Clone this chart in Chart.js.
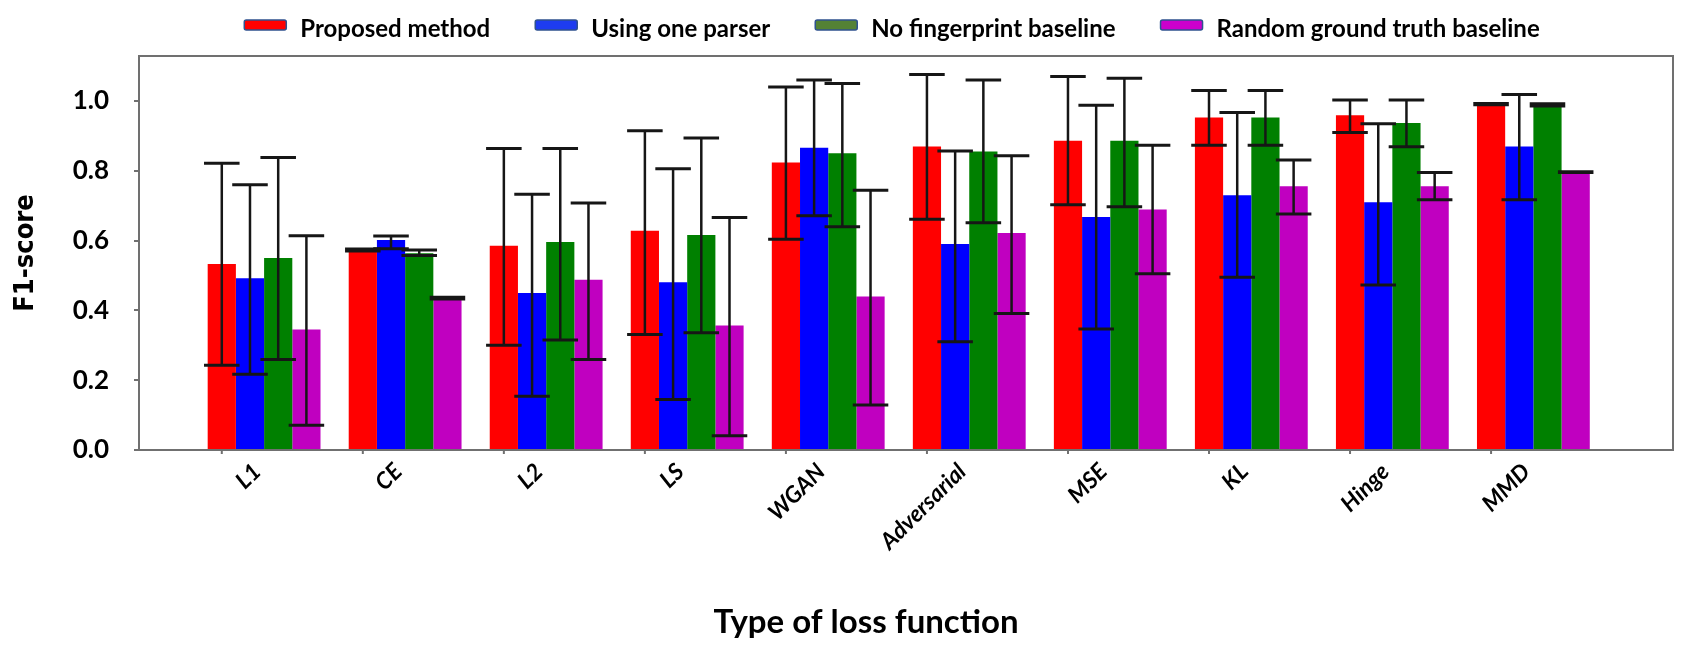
<!DOCTYPE html>
<html>
<head>
<meta charset="utf-8">
<title>F1-score by type of loss function</title>
<script src="https://cdn.jsdelivr.net/npm/chart.js"></script>
<style>
  html, body { margin: 0; padding: 0; background: #fff; }
  #wrap { width: 1690px; height: 650px; }
</style>
</head>
<body>
<div id="wrap"><canvas id="chart" width="1690" height="650"></canvas></div>
<script>
// categories and tick labels
var lossTypes = ['L1', 'CE', 'L2', 'LS', 'WGAN', 'Adversarial', 'MSE', 'KL', 'Hinge', 'MMD'];
var yTicks = [0, 0.2, 0.4, 0.6, 0.8, 1.0];
var seriesNames = ['Proposed method', 'Using one parser', 'No fingerprint baseline', 'Random ground truth baseline'];

// mean F1-score, with error bar low / high ends
var proposedMean = [0.533, 0.573, 0.585, 0.628, 0.824, 0.870, 0.886, 0.953, 0.959, 0.991];
var proposedLow  = [0.243, 0.570, 0.300, 0.331, 0.604, 0.661, 0.703, 0.873, 0.910, 0.989];
var proposedHigh = [0.822, 0.576, 0.864, 0.915, 1.040, 1.076, 1.070, 1.030, 1.003, 0.993];

var oneParserMean = [0.492, 0.602, 0.450, 0.481, 0.866, 0.590, 0.668, 0.730, 0.710, 0.870];
var oneParserLow  = [0.217, 0.577, 0.154, 0.145, 0.671, 0.310, 0.347, 0.495, 0.473, 0.717];
var oneParserHigh = [0.760, 0.613, 0.733, 0.806, 1.060, 0.857, 0.988, 0.967, 0.935, 1.019];

var noFingerMean = [0.550, 0.564, 0.596, 0.616, 0.850, 0.855, 0.886, 0.953, 0.937, 0.990];
var noFingerLow  = [0.259, 0.557, 0.315, 0.336, 0.640, 0.651, 0.697, 0.873, 0.869, 0.986];
var noFingerHigh = [0.838, 0.573, 0.864, 0.894, 1.050, 1.060, 1.065, 1.030, 1.003, 0.992];

var randomMean = [0.345, 0.435, 0.488, 0.357, 0.440, 0.622, 0.689, 0.756, 0.756, 0.795];
var randomLow  = [0.071, 0.433, 0.259, 0.041, 0.129, 0.391, 0.505, 0.676, 0.717, 0.795];
var randomHigh = [0.614, 0.438, 0.708, 0.666, 0.744, 0.843, 0.873, 0.831, 0.795, 0.797];

var barColors = ['#ff0000', '#0000ff', '#008000', '#c000c0'];
var legendColors = ['#ff0000', '#1e3cf0', '#548235', '#cc00cc'];

function points(values) {
    return values.map(function (v, i) { return {x: i, y: v}; });
}

function makeSet(n, mean, low, high) {
    return {
        label: seriesNames[n],
        data: points(mean),
        errLow: low,
        errHigh: high,
        backgroundColor: barColors[n],
        borderWidth: 0,
        barPercentage: 1.0,
        categoryPercentage: 0.8
    };
}

// box round the plot + small x tick marks under the red bars
var frame = {
    id: 'frame',
    afterDatasetsDraw: function (chart) {
        var ctx = chart.ctx, a = chart.chartArea;
        ctx.save();
        ctx.strokeStyle = '#707070';
        ctx.lineWidth = 2;
        ctx.strokeRect(a.left, a.top, a.right - a.left, a.bottom - a.top);
        chart.getDatasetMeta(0).data.forEach(function (bar) {
            ctx.beginPath();
            ctx.moveTo(bar.x, a.bottom);
            ctx.lineTo(bar.x, a.bottom + 4);
            ctx.stroke();
        });
        ctx.restore();
    }
};

var errorBars = {
    id: 'errorBars',
    afterDatasetsDraw: function (chart) {
        var ctx = chart.ctx, y = chart.scales.y;
        ctx.save();
        ctx.strokeStyle = '#161616';
        chart.data.datasets.forEach(function (ds, d) {
            chart.getDatasetMeta(d).data.forEach(function (bar, i) {
                var top = y.getPixelForValue(ds.errHigh[i]);
                var bottom = y.getPixelForValue(ds.errLow[i]);
                var half = bar.width * 0.63;
                ctx.lineWidth = 2.5;
                ctx.beginPath();
                ctx.moveTo(bar.x, top);
                ctx.lineTo(bar.x, bottom);
                ctx.stroke();
                ctx.lineWidth = 3;
                ctx.beginPath();
                ctx.moveTo(bar.x - half, top);
                ctx.lineTo(bar.x + half, top);
                ctx.moveTo(bar.x - half, bottom);
                ctx.lineTo(bar.x + half, bottom);
                ctx.stroke();
            });
        });
        ctx.restore();
    }
};

// legend row on top and x axis title
var extras = {
    id: 'extras',
    afterDraw: function (chart) {
        var ctx = chart.ctx;
        var sets = chart.data.datasets;
        ctx.save();
        ctx.font = 'bold 24px Lato';
        ctx.textBaseline = 'alphabetic';
        ctx.fillStyle = '#000';
        var boxW = 42, boxH = 10, gap = 14, space = 45;
        var total = 0;
        sets.forEach(function (ds, i) {
            total += boxW + gap + ctx.measureText(ds.label).width + (i < sets.length - 1 ? space : 0);
        });
        var x = 892 - total / 2;
        sets.forEach(function (ds, i) {
            ctx.fillStyle = legendColors[i];
            ctx.strokeStyle = '#2f528f';
            ctx.lineWidth = 1.5;
            ctx.beginPath();
            ctx.roundRect(x, 20, boxW, boxH, 2);
            ctx.fill();
            ctx.stroke();
            x += boxW + gap;
            ctx.fillStyle = '#000';
            ctx.fillText(ds.label, x, 37);
            x += ctx.measureText(ds.label).width + space;
        });
        ctx.font = 'bold 33px Lato';
        ctx.textAlign = 'center';
        ctx.fillText('Type of loss function', 866, 633);
        ctx.restore();
    }
};

var chart = new Chart(document.getElementById('chart').getContext('2d'), {
    type: 'bar',
    data: {
        datasets: [
            makeSet(0, proposedMean, proposedLow, proposedHigh),
            makeSet(1, oneParserMean, oneParserLow, oneParserHigh),
            makeSet(2, noFingerMean, noFingerLow, noFingerHigh),
            makeSet(3, randomMean, randomLow, randomHigh)
        ]
    },
    options: {
        responsive: false,
        devicePixelRatio: 1,
        animation: false,
        layout: {padding: {top: 56, right: 17, left: 0, bottom: 0}},
        plugins: {
            legend: {display: false},
            tooltip: {enabled: false}
        },
        scales: {
            x: {
                type: 'linear',
                offset: false,
                min: -0.887,
                max: 9.99,
                grid: {display: false, drawTicks: false},
                border: {display: false},
                afterBuildTicks: function (scale) {
                    scale.ticks = lossTypes.map(function (c, i) { return {value: i}; });
                },
                afterFit: function (scale) { scale.height = 200; },
                ticks: {
                    autoSkip: false,
                    minRotation: 45,
                    maxRotation: 45,
                    padding: 8,
                    labelOffset: -7,
                    color: '#000',
                    font: {family: 'Lato', size: 23, weight: 'bold', style: 'italic'},
                    callback: function (value) { return lossTypes[value]; }
                }
            },
            y: {
                min: 0,
                max: 1.129,
                afterBuildTicks: function (scale) {
                    scale.ticks = yTicks.map(function (v) { return {value: v}; });
                },
                afterFit: function (scale) { scale.width = 139; },
                grid: {drawOnChartArea: false, drawTicks: true, tickLength: 5, color: '#707070', lineWidth: 2},
                border: {display: false},
                ticks: {
                    padding: 25,
                    color: '#000',
                    font: {family: 'Lato', size: 26, weight: 'bold'},
                    callback: function (value) { return value.toFixed(1); }
                },
                title: {
                    display: true,
                    text: 'F1-score',
                    color: '#000',
                    padding: {top: 10, bottom: 0},
                    font: {family: "'DejaVu Sans Condensed', 'DejaVu Sans'", size: 27, weight: 'bold'}
                }
            }
        }
    },
    plugins: [frame, errorBars, extras]
});
</script>
</body>
</html>
